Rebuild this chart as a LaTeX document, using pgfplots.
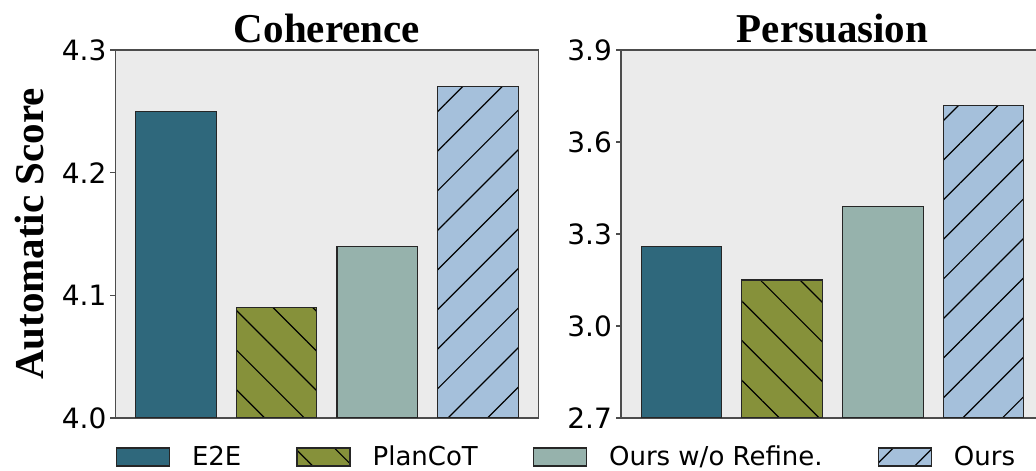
\documentclass[border=0pt]{standalone}
\usepackage{fontspec}
\setmainfont{DejaVu Sans}
\newfontfamily\tnr{Liberation Serif}
\usepackage{pgfplots}
\pgfplotsset{compat=1.18}
\usetikzlibrary{patterns.meta}

\definecolor{ce2e}{RGB}{47,104,124}
\definecolor{cplan}{RGB}{134,145,58}
\definecolor{cwo}{RGB}{150,178,172}
\definecolor{cours}{RGB}{165,192,219}
\definecolor{bg}{RGB}{235,235,235}

\pgfplotsset{
  barbase/.style={ybar, bar width=0.8, bar shift=0pt, draw=black!85, line width=0.6pt,
    legend image code/.code={\draw[##1] (0pt,-4.5pt) rectangle (26.5pt,4.5pt);}},
  hatchback/.style={postaction={pattern={Lines[angle=-45,distance=14pt,line width=0.6pt]},pattern color=black}},
  hatchfwd/.style={postaction={pattern={Lines[angle=45,distance=14pt,line width=0.6pt]},pattern color=black}},
  panel/.style={
    scale only axis, height=184pt, width=211.5pt,
    axis background/.style={fill=bg},
    axis line style={draw=black!70, line width=0.6pt},
    xmin=-0.6, xmax=3.6, xtick=\empty,
    ytick pos=left, tick align=outside, major tick length=2.5pt,
    every tick/.style={draw=black!70, line width=0.6pt},
    ticklabel style={font=\fontsize{14}{16}\selectfont},
    /pgf/number format/assume math mode=true,
    yticklabel style={xshift=1.5pt, /pgf/number format/.cd, fixed, fixed zerofill, precision=1},
    title style={at={(0.5,1)}, anchor=base, yshift=-2.5pt, font=\fontsize{20.5}{24}\selectfont\tnr\bfseries},
  },
}

\begin{document}
\begin{tikzpicture}
\begin{axis}[panel, at={(57.7pt,26pt)}, anchor=south west,
  ymin=4.0, ymax=4.3, ytick={4.0,4.1,4.2,4.3},
  title={Coherence},
  ylabel={Automatic Score},
  ylabel style={at={(axis description cs:-0.171,0.5)}, anchor=base, rotate=0,
    font=\fontsize{20.5}{24}\selectfont\tnr\bfseries},
  legend columns=4,
  legend style={at={(axis description cs:0,-0.106)}, anchor=west, draw=none, fill=none,
    inner sep=0pt, font=\fontsize{13}{15}\selectfont,
    nodes={inner sep=0pt},
    /tikz/every odd column/.append style={column sep=11pt},
    /tikz/every even column/.append style={column sep=27.5pt}},
]
\addplot[barbase, fill=ce2e] coordinates {(0,4.25)};
\addplot[barbase, fill=cplan, hatchback] coordinates {(1,4.09)};
\addplot[barbase, fill=cwo] coordinates {(2,4.14)};
\addplot[barbase, fill=cours, hatchfwd] coordinates {(3,4.27)};
\legend{E2E, PlanCoT, Ours w/o Refine., Ours}
\end{axis}

\begin{axis}[panel, at={(310.5pt,26pt)}, anchor=south west,
  ymin=2.7, ymax=3.9, ytick={2.7,3.0,3.3,3.6,3.9},
  title={Persuasion},
]
\addplot[barbase, fill=ce2e] coordinates {(0,3.26)};
\addplot[barbase, fill=cplan, hatchback] coordinates {(1,3.15)};
\addplot[barbase, fill=cwo] coordinates {(2,3.39)};
\addplot[barbase, fill=cours, hatchfwd] coordinates {(3,3.72)};
\end{axis}
\pgfresetboundingbox
\path[use as bounding box] (0,0) rectangle (518pt,235pt);
\end{tikzpicture}
\end{document}
